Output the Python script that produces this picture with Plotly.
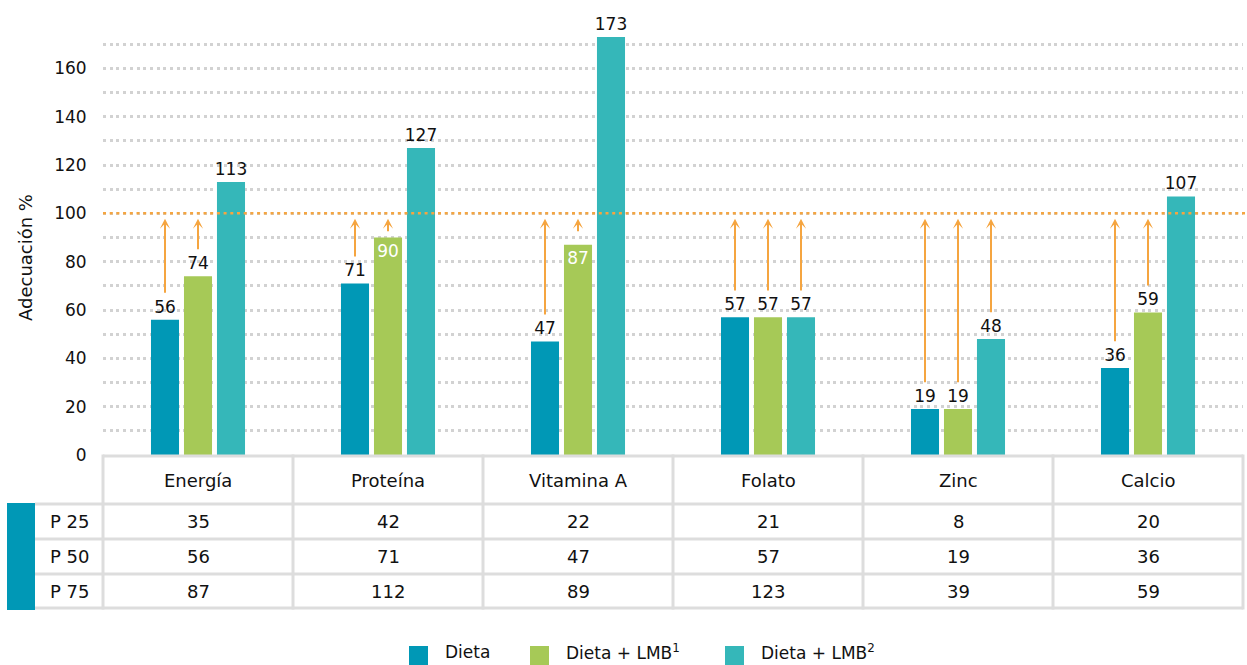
import plotly.graph_objects as go

# ---- data ----
categories = ["Energía", "Proteína", "Vitamina A", "Folato", "Zinc", "Calcio"]
dieta = [56, 71, 47, 57, 19, 36]
dieta_lmb1 = [74, 90, 87, 57, 19, 59]
dieta_lmb2 = [113, 127, 173, 57, 48, 107]
series_names = ["Dieta", "Dieta + LMB<sup>1</sup>", "Dieta + LMB<sup>2</sup>"]

percentile_labels = ["P 25", "P 50", "P 75"]
p25 = [35, 42, 22, 21, 8, 20]
p50 = [56, 71, 47, 57, 19, 36]
p75 = [87, 112, 89, 123, 39, 59]

y_ticks = [0, 20, 40, 60, 80, 100, 120, 140, 160]
y_minor = [10, 30, 50, 70, 90, 110, 130, 150, 170]
goal = 100

# ---- styling ----
colors = ["#0098B6", "#A6C957", "#35B7B9"]
orange = "#F5A540"
grid_color = "#D2D2D2"
table_color = "#DDDDDD"
text_color = "#111111"
font_family = "DejaVu Sans, Verdana, sans-serif"
fs = 18        # table, axis title
fs_small = 17  # ticks, bar values, legend

W, H = 1247, 665
M_L, M_R, M_T, M_B = 103, 4, 20, 210
plot_h = H - M_T - M_B
plot_w = W - M_L - M_R
bargap = 0.479
bargroupgap = 0.15
slot = (1 - bargap) / 3


def py(y_px):
    """Pixel row -> paper y."""
    return (H - M_B - y_px) / plot_h


def px(x_px):
    """Pixel column -> paper x."""
    return (x_px - M_L) / plot_w


def label(x, y, text, xref="paper", xanchor="center", size=fs, **extra):
    return dict(x=x, y=y, xref=xref, yref="paper", text=text, showarrow=False,
                xanchor=xanchor, yanchor="middle",
                font=dict(size=size, color=text_color, family=font_family), **extra)


fig = go.Figure()

all_series = [dieta, dieta_lmb1, dieta_lmb2]
for k, (name, vals) in enumerate(zip(series_names, all_series)):
    # labels that would collide with the goal arrow sit inside the bar
    positions = ["inside" if (v < goal and v + 12 > goal - 10) else "outside" for v in vals]
    fig.add_trace(go.Bar(
        x=categories, y=vals, name=name,
        marker=dict(color=colors[k], line=dict(width=0)),
        text=[str(v) for v in vals],
        textposition=positions,
        insidetextanchor="end",
        insidetextfont=dict(color="white", size=fs_small, family=font_family),
        outsidetextfont=dict(color=text_color, size=fs_small, family=font_family),
        constraintext="none",
        cliponaxis=False,
        showlegend=False,
        hoverinfo="skip",
    ))

# arrows from each bar below the goal up to the goal line
annotations = []
for k, vals in enumerate(all_series):
    for i, v in enumerate(vals):
        if v >= goal:
            continue
        inside = v + 12 > goal - 10
        tail = 92 if inside else v + 10.5
        xpos = i + (k - 1) * slot
        annotations.append(dict(
            x=xpos, y=goal - 2.2, ax=xpos, ay=tail,
            xref="x", yref="y", axref="x", ayref="y",
            showarrow=True, arrowhead=3, arrowsize=0.85, arrowwidth=2,
            arrowcolor=orange, text="", standoff=0,
        ))

shapes = []
# goal line
shapes.append(dict(type="line", xref="paper", yref="y", x0=0, x1=1.002,
                   y0=goal, y1=goal, layer="above",
                   line=dict(color=orange, width=2.5, dash="3px,3.7px")))

# ---- table below the axis ----
row_edges = [456, 504, 539, 574, 608]
n = len(categories)
line_style = dict(color=table_color, width=3)
# header top line
shapes.append(dict(type="line", xref="paper", yref="paper", x0=0, x1=1,
                   y0=py(row_edges[0]), y1=py(row_edges[0]), line=line_style))
# row lines including label column
for yy in row_edges[1:]:
    shapes.append(dict(type="line", xref="paper", yref="paper", x0=px(35), x1=1,
                       y0=py(yy), y1=py(yy), line=line_style))
# column separators
for j in range(n + 1):
    shapes.append(dict(type="line", xref="paper", yref="paper", x0=j / n, x1=j / n,
                       y0=py(row_edges[0] - 1.5), y1=py(row_edges[-1] + 1.5), line=line_style))
# colour marker for the percentile rows
shapes.append(dict(type="rect", xref="paper", yref="paper", x0=px(7), x1=px(35),
                   y0=py(503), y1=py(610), fillcolor=colors[0], line=dict(width=0)))

# header texts
header_y = py((row_edges[0] + row_edges[1]) / 2)
for c in categories:
    annotations.append(label(c, header_y, c, xref="x"))
# percentile rows
for r, (lab, row) in enumerate(zip(percentile_labels, [p25, p50, p75])):
    yc = py((row_edges[r + 1] + row_edges[r + 2]) / 2)
    annotations.append(label(px(69), yc, lab))
    for c, v in zip(categories, row):
        annotations.append(label(c, yc, str(v), xref="x"))

# y-axis title
annotations.append(label(px(25), py(258), "Adecuación %", textangle=-90))

# ---- legend ----
legend_x = [409, 530, 725]
for k, name in enumerate(series_names):
    x0 = legend_x[k]
    shapes.append(dict(type="rect", xref="paper", yref="paper", x0=px(x0), x1=px(x0 + 19),
                       y0=py(646), y1=py(665), fillcolor=colors[k], line=dict(width=0)))
    annotations.append(label(px(x0 + 34), py(652), name, xanchor="left", size=fs_small))

fig.update_layout(
    width=W, height=H,
    margin=dict(l=M_L, r=M_R, t=M_T, b=M_B, pad=0),
    paper_bgcolor="white", plot_bgcolor="white",
    barmode="group", bargap=bargap, bargroupgap=bargroupgap,
    font=dict(family=font_family, size=fs, color=text_color),
    shapes=shapes, annotations=annotations,
    showlegend=False,
    xaxis=dict(type="category", range=[-0.5, n - 0.5], showticklabels=False,
               showgrid=False, zeroline=False, showline=False, ticks=""),
    yaxis=dict(range=[0, 180], tickmode="array", tickvals=y_ticks,
               ticks="outside", ticklen=12, tickcolor="rgba(0,0,0,0)",
               tickfont=dict(size=fs_small, color=text_color, family=font_family),
               showgrid=True, gridcolor=grid_color, gridwidth=2.5, griddash="3px,3.7px",
               minor=dict(tickmode="array", tickvals=y_minor, showgrid=True,
                          gridcolor=grid_color, gridwidth=2.5, griddash="3px,3.7px"),
               zeroline=False, showline=False),
)

fig.write_html("out.html")
